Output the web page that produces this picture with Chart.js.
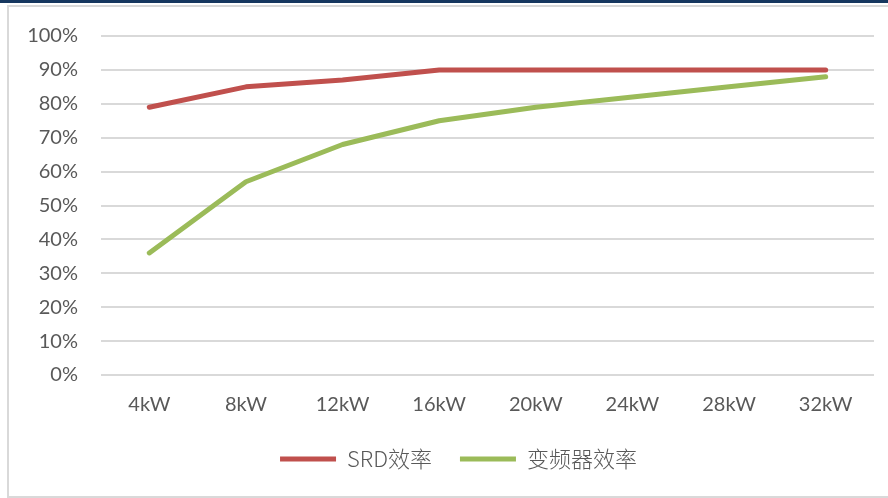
<!DOCTYPE html>
<html>
<head>
<meta charset="utf-8">
<script src="https://cdn.jsdelivr.net/npm/chart.js@4/dist/chart.umd.min.js"></script>
<style>
  html, body { margin: 0; padding: 0; width: 888px; height: 498px; overflow: hidden; background: #fff; }
  #band { position: absolute; left: 0; top: 0; width: 888px; height: 3px; background: #16375f; }
  #frame { position: absolute; left: 7px; top: 5px; width: 898px; height: 489px; border: 2px solid #d9d9d9; border-right: none; }
  #wrap { position: absolute; left: 9px; top: 1px; width: 898px; height: 495px; }
</style>
</head>
<body>
<div id="band"></div>
<div id="frame"></div>
<div id="wrap"><canvas id="c" width="898" height="495"></canvas></div>
<script>
// Rated power steps
const categories = ['4kW', '8kW', '12kW', '16kW', '20kW', '24kW', '28kW', '32kW'];
// Efficiency (%) per power step
const srdEfficiency = [79, 85, 87, 90, 90, 90, 90, 90];
const inverterEfficiency = [36, 57, 68, 75, 79, 82, 85, 88];
// Y axis ticks (%)
const yTicks = [0, 10, 20, 30, 40, 50, 60, 70, 80, 90, 100];

const baseFont = "Lato, 'Noto Sans CJK SC', sans-serif";

// Center the legend under the whole frame rather than the padded box
const legendShift = {
  id: 'legendShift',
  afterLayout(chart) {
    const lg = chart.legend;
    if (lg) { lg.left += 17; lg.right += 17; }
  }
};

new Chart(document.getElementById('c'), {
  type: 'line',
  data: {
    labels: categories,
    datasets: [
      {
        label: 'SRD效率',
        data: srdEfficiency,
        borderColor: '#C0504D',
        backgroundColor: '#C0504D',
        borderWidth: 5,
        pointRadius: 0,
        pointHoverRadius: 0,
        tension: 0,
        borderCapStyle: 'round',
        borderJoinStyle: 'round'
      },
      {
        label: '变频器效率',
        data: inverterEfficiency,
        borderColor: '#9BBB59',
        backgroundColor: '#9BBB59',
        borderWidth: 5,
        pointRadius: 0,
        pointHoverRadius: 0,
        tension: 0,
        borderCapStyle: 'round',
        borderJoinStyle: 'round'
      }
    ]
  },
  plugins: [legendShift],
  options: {
    responsive: false,
    animation: false,
    events: [],
    layout: { padding: { top: 0, right: 33, bottom: 16, left: 0 } },
    plugins: {
      tooltip: { enabled: false },
      legend: {
        position: 'bottom',
        labels: {
          usePointStyle: true,
          pointStyle: 'line',
          pointStyleWidth: 56,
          padding: 28,
          color: '#595959',
          font: { family: "'Noto Sans CJK SC', Lato, sans-serif", size: 22, weight: '300' }
        }
      }
    },
    scales: {
      x: {
        offset: true,
        grid: { display: false, drawTicks: false },
        border: { display: false },
        ticks: {
          color: '#595959',
          padding: 18,
          maxRotation: 0,
          font: { family: baseFont, size: 20 }
        },
        afterFit: (s) => { s.height = 45; }
      },
      y: {
        min: 0,
        max: 100,
        afterBuildTicks: (s) => { s.ticks = yTicks.map(v => ({ value: v })); },
        grid: { color: '#d9d9d9', lineWidth: 2, drawTicks: false },
        border: { display: false },
        ticks: {
          color: '#595959',
          padding: 23,
          font: { family: baseFont, size: 20 },
          callback: (v) => v + '%'
        },
        afterFit: (s) => { s.width = 92; }
      }
    }
  }
});
</script>
</body>
</html>
